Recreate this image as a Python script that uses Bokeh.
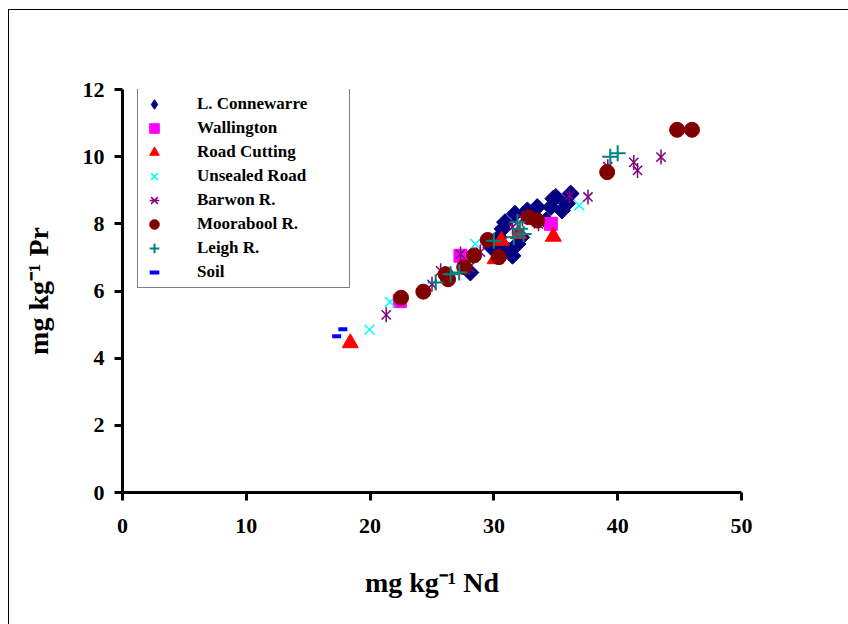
import numpy as np
from bokeh.plotting import figure
from bokeh.models import Range1d, FixedTicker, Legend, LegendItem
from bokeh.embed import file_html
from bokeh.resources import INLINE

# ---------------- data (Nd, Pr in mg/kg) ----------------
x_ticks = [0, 10, 20, 30, 40, 50]
y_ticks = [0, 2, 4, 6, 8, 10, 12]
x_title = "mg kg\u207b\u00b9 Nd"
y_title = "mg kg\u207b\u00b9 Pr"

conn_nd = [28.1, 29.8, 30.3, 30.4, 30.7, 30.9, 31.2, 31.5, 31.7, 31.9, 32.2,
           32.7, 33.2, 33.5, 34.2, 34.6, 34.8, 35.0, 35.5, 35.9, 36.2]
conn_pr = [6.55, 7.3, 7.4, 7.6, 7.85, 8.05, 7.2, 7.05, 8.3, 7.4, 7.6,
           8.4, 8.25, 8.5, 8.1, 8.5, 8.75, 8.8, 8.4, 8.6, 8.9]

wall_nd = [22.4, 27.3, 34.6]
wall_pr = [5.7, 7.05, 8.0]

road_nd = [18.4, 30.1, 30.6, 32.0, 34.8]
road_pr = [4.45, 6.95, 7.5, 7.7, 7.62]

unseal_nd = [19.95, 21.6, 28.5, 36.9]
unseal_pr = [4.85, 5.67, 7.4, 8.55]

barwon_nd = [21.3, 25.0, 25.7, 27.3, 28.0, 28.9, 31.5, 32.3, 33.6, 36.1, 37.6,
             39.2, 41.3, 41.6, 43.5]
barwon_pr = [5.29, 6.2, 6.6, 7.1, 6.7, 7.16, 7.9, 8.15, 8.0, 8.84, 8.8,
             9.7, 9.83, 9.59, 9.99]

moora_nd = [22.5, 24.3, 26.1, 26.3, 27.6, 28.4, 29.5, 30.4, 32.8, 33.5, 39.15, 44.8, 46.0]
moora_pr = [5.8, 5.98, 6.5, 6.35, 6.71, 7.06, 7.52, 7.01, 8.2, 8.1, 9.54, 10.8, 10.8]

leigh_nd = [25.3, 26.5, 27.2, 30.0, 31.6, 32.1, 32.4, 31.9, 39.4, 40.0]
leigh_pr = [6.25, 6.5, 6.55, 7.5, 7.6, 7.85, 7.7, 8.05, 10.0, 10.1]

soil_nd = [17.3, 17.8]
soil_pr = [4.65, 4.86]

# ---------------- figure ----------------
p = figure(width=848, height=624, output_backend="svg", toolbar_location=None,
           x_range=Range1d(0, 50), y_range=Range1d(0, 12),
           min_border_left=122, min_border_right=107,
           min_border_top=89, min_border_bottom=132)
# page frame (left and top rule of the source page), painted behind a transparent canvas
p.styles = {"background": "linear-gradient(#000, #000) 8px 9px / 1px 100% no-repeat, "
                          "linear-gradient(#000, #000) 8px 9px / 100% 1px no-repeat, #fff"}
p.xgrid.visible = False
p.ygrid.visible = False
p.outline_line_color = None
p.background_fill_color = None
p.border_fill_color = None

for ax in (p.xaxis[0], p.yaxis[0]):
    ax.axis_line_width = 3
    ax.axis_line_color = "black"
    ax.major_tick_line_width = 3
    ax.major_tick_line_color = "black"
    ax.major_tick_out = 8
    ax.major_tick_in = 0
    ax.minor_tick_line_color = None
    ax.major_label_text_font = "Liberation Serif"
    ax.major_label_text_font_style = "bold"
    ax.major_label_text_font_size = "22px"
    ax.major_label_text_color = "black"
    ax.axis_label_text_font = "Liberation Serif"
    ax.axis_label_text_font_style = "bold"
    ax.axis_label_text_font_size = "28px"
    ax.axis_label_text_color = "black"
p.xaxis.ticker = FixedTicker(ticks=x_ticks)
p.yaxis.ticker = FixedTicker(ticks=y_ticks)
p.xaxis.major_label_standoff = 18
p.yaxis.major_label_standoff = 10
p.xaxis.axis_label = x_title
p.yaxis.axis_label = y_title
p.xaxis.axis_label_standoff = 31
p.yaxis.axis_label_standoff = 26

# ---------------- series ----------------
navy, magenta, red, cyan = "#000080", "#FF00FF", "#FF0000", "#00FFFF"
purple, maroon, teal, blue = "#800080", "#800000", "#008080", "#0000FF"

# small diamonds hidden under the rotated squares: they provide the legend swatch
r_conn_key = p.scatter(conn_nd, conn_pr, marker="diamond", size=8,
                       fill_color=navy, line_color=navy)
r_conn = p.scatter(conn_nd, conn_pr, marker="square", angle=np.pi / 4, size=12,
                   fill_color=navy, line_color=navy)
r_wall = p.scatter(wall_nd, wall_pr, marker="square", size=13,
                   fill_color=magenta, line_color=magenta)
r_road = p.scatter(road_nd, road_pr, marker="triangle", size=16,
                   fill_color=red, line_color=red)
r_unseal = p.scatter(unseal_nd, unseal_pr, marker="x", size=14,
                     line_color=cyan, line_width=1.5)
r_barx = p.scatter(barwon_nd, barwon_pr, marker="x", size=13,
                   line_color=purple, line_width=1.5)
r_barv = p.scatter(barwon_nd, barwon_pr, marker="dash", angle=np.pi / 2, size=15,
                   line_color=purple, line_width=1.5)
r_moora = p.scatter(moora_nd, moora_pr, marker="circle", size=15,
                    fill_color=maroon, line_color=maroon)
r_leigh = p.scatter(leigh_nd, leigh_pr, marker="cross", size=16,
                    line_color=teal, line_width=2)
r_soil = p.scatter(soil_nd, soil_pr, marker="dash", size=9,
                   line_color=blue, line_width=4)

legend = Legend(items=[
    LegendItem(label="L. Connewarre", renderers=[r_conn_key]),
    LegendItem(label="Wallington", renderers=[r_wall]),
    LegendItem(label="Road Cutting", renderers=[r_road]),
    LegendItem(label="Unsealed Road", renderers=[r_unseal]),
    LegendItem(label="Barwon R.", renderers=[r_barx, r_barv]),
    LegendItem(label="Moorabool R.", renderers=[r_moora]),
    LegendItem(label="Leigh R.", renderers=[r_leigh]),
    LegendItem(label="Soil", renderers=[r_soil]),
], location=(15, 204))
legend.margin = 0
legend.padding = 3
legend.spacing = 0
legend.glyph_width = 26
legend.glyph_height = 24
legend.label_height = 24
legend.label_width = 149
legend.label_standoff = 30
legend.border_line_color = "black"
legend.border_line_width = 1
legend.background_fill_color = "white"
legend.background_fill_alpha = 1
legend.label_text_font = "Liberation Serif"
legend.label_text_font_style = "bold"
legend.label_text_font_size = "17px"
legend.label_text_color = "black"
p.add_layout(legend)

open("out.html", "w").write(file_html(p, INLINE))
